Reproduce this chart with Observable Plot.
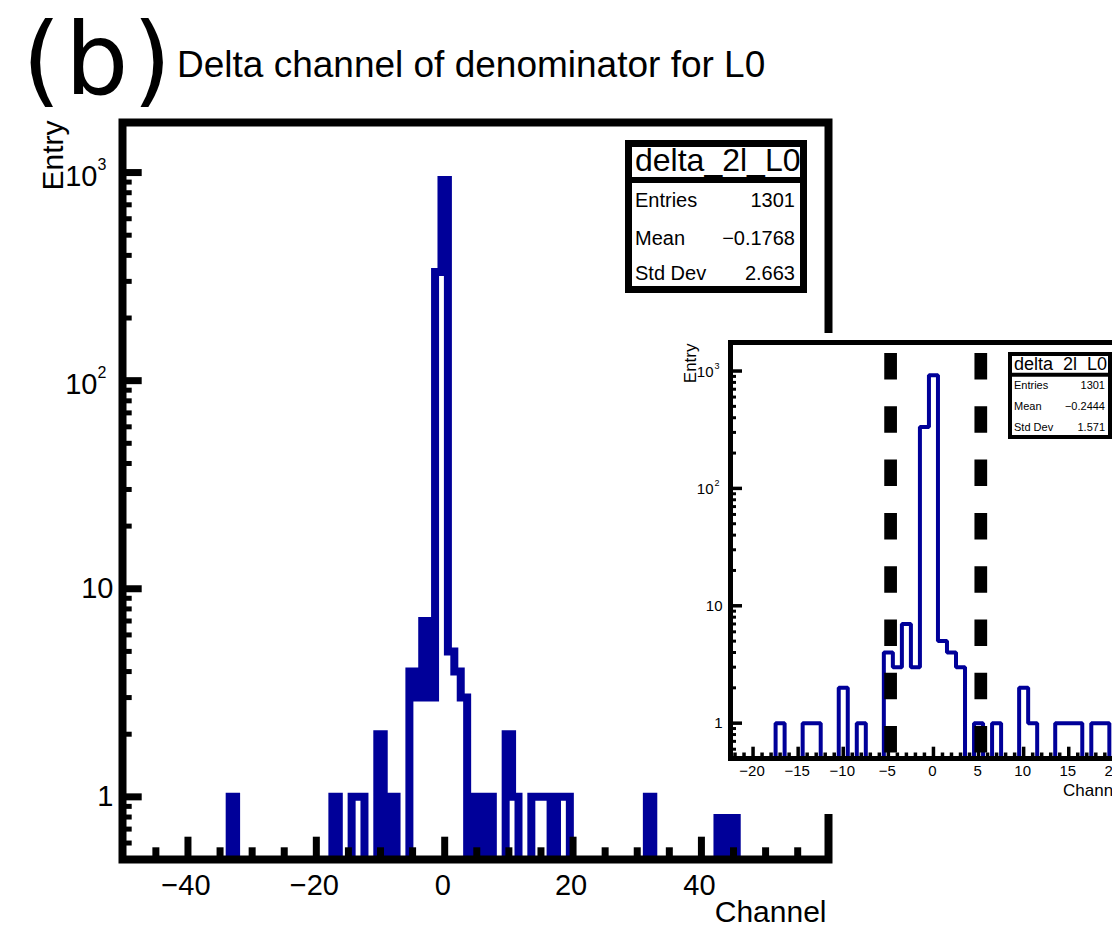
<!DOCTYPE html>
<html>
<head>
<meta charset="utf-8">
<script src="https://cdn.jsdelivr.net/npm/d3@7"></script>
<script src="https://cdn.jsdelivr.net/npm/@observablehq/plot@0.6"></script>
<style>
  html, body { margin: 0; padding: 0; background: #fff; }
  #wrap { position: relative; width: 1112px; height: 928px; overflow: hidden; background: #fff; }
  .layer { position: absolute; }
  .layer svg { max-width: none !important; display: block; }
</style>
</head>
<body>
<div id="wrap"></div>
<script>
// ---------------- data ----------------
const binCenters = [-33, -17, -14, -13, -10, -8, -5, -4, -3, -2, -1,   0, 1, 2, 3, 5, 7, 10, 11, 14, 15, 16, 18, 19, 32, 43, 45];
const binCounts  = [  1,   1,   1,   1,   2,  1,  4,  3,  7,  3, 333, 920, 5, 4, 3, 1, 1,  2,  1,  1,  1,  1,  1,  1,  1,  1,  1];

const mainXTicks = [-40, -20, 0, 20, 40];
const mainXTickLabels = ["−40", "−20", "0", "20", "40"];
const mainXMinorTicks = [-45, -35, -30, -25, -15, -10, -5, 5, 10, 15, 25, 30, 35, 45, 50, 55];

const yTickValues = [1, 10, 100, 1000];
const yTickBase = ["1", "10", "10", "10"];
const yTickExp = ["", "", "2", "3"];

const insetXTicks = [-20, -15, -10, -5, 0, 5, 10, 15, 20];
const insetXTickLabels = ["−20", "−15", "−10", "−5", "0", "5", "10", "15", "20"];

const cutLines = [-4.75, 5.25];

const statName = "delta_2l_L0";
const statLabels = ["Entries", "Mean", "Std Dev"];
const mainStatValues = ["1301", "−0.1768", "2.663"];
const insetStatValues = ["1301", "−0.2444", "1.571"];

const panelLabel = "(b)";
const titleText = "Delta channel of denominator for L0";
const xLabel = "Channel";
const yLabel = "Entry";

// ---------------- helpers ----------------
const FONT = "'Liberation Sans', Arial, Helvetica, sans-serif";
const BLUE = "#000099";

function steps(lo, hi) {
  const counts = new Map(binCenters.map((c, i) => [c, binCounts[i]]));
  const pts = [];
  for (let c = lo; c <= hi; c++) {
    const v = counts.get(c) ?? 0;
    const y = v > 0 ? v : 0.01; // empty bins fall below the axis floor (clipped)
    pts.push({x: c - 0.5, y}, {x: c + 0.5, y});
  }
  return pts;
}
const minorY = [];
for (const d of [1, 10, 100]) for (let k = 2; k <= 9; k++) minorY.push(k * d);
for (const v of [0.6, 0.7, 0.8, 0.9]) minorY.push(v);

const yLab = yTickValues.map((v, i) => ({v, base: yTickBase[i], exp: yTickExp[i]}));
const mainXLab = mainXTicks.map((v, i) => ({v, label: mainXTickLabels[i]}));
const insetXLab = insetXTicks.map((v, i) => ({v, label: insetXTickLabels[i]}));
const insetMinorX = d3.range(-22, 23).filter(v => v % 5 !== 0);

const wrap = document.getElementById("wrap");
function place(node, left, top, w, h) {
  const d = document.createElement("div");
  d.className = "layer";
  d.style.left = left + "px";
  d.style.top = top + "px";
  d.style.width = w + "px";
  d.style.height = h + "px";
  node.style.maxWidth = "none";
  d.appendChild(node);
  wrap.appendChild(d);
}

// ---------------- main plot ----------------
const M = {w: 1112, h: 928, l: 122, r: 284, t: 122, b: 69};
const fw = M.w - M.l - M.r, fh = M.h - M.t - M.b;
const mainPlot = Plot.plot({
  width: M.w, height: M.h,
  marginLeft: M.l, marginRight: M.r, marginTop: M.t, marginBottom: M.b,
  x: {domain: [-50.2, 59.8], axis: null},
  y: {type: "log", domain: [0.5, 1740], axis: null},
  style: {background: "transparent", fontFamily: FONT, color: "black", overflow: "visible"},
  marks: [
    Plot.line(steps(-51, 60), {x: "x", y: "y", stroke: BLUE, strokeWidth: 8, strokeLinejoin: "miter", strokeMiterlimit: 10, clip: true}),
    Plot.ruleY(minorY, {stroke: "black", strokeWidth: 5, insetRight: fw - 9.7}),
    Plot.ruleY(yTickValues, {stroke: "black", strokeWidth: 7, insetRight: fw - 19.7}),
    Plot.ruleX(mainXMinorTicks, {stroke: "black", strokeWidth: 7, insetTop: fh - 11.7}),
    Plot.ruleX(mainXTicks, {stroke: "black", strokeWidth: 7, insetTop: fh - 22.3}),
    Plot.frame({stroke: "black", strokeWidth: 8}),
    Plot.text(yLab, {filter: d => d.exp === "", y: "v", text: "base", frameAnchor: "left", textAnchor: "end", lineAnchor: "middle", dx: -9, fontSize: 29, fontFamily: FONT}),
    Plot.text(yLab, {filter: d => d.exp !== "", y: "v", text: "base", frameAnchor: "left", textAnchor: "end", lineAnchor: "middle", dx: -25, dy: 4, fontSize: 29, fontFamily: FONT}),
    Plot.text(yLab, {filter: d => d.exp !== "", y: "v", text: "exp", frameAnchor: "left", textAnchor: "start", lineAnchor: "middle", dx: -25, dy: -8, fontSize: 16, fontFamily: FONT}),
    Plot.text(mainXLab, {x: "v", text: "label", frameAnchor: "bottom", lineAnchor: "middle", dx: -2, dy: 26, fontSize: 29, fontFamily: FONT}),
    Plot.text([xLabel], {text: d => d, frameAnchor: "bottom-right", textAnchor: "end", lineAnchor: "middle", dx: -2, dy: 53, fontSize: 30, fontFamily: FONT}),
    Plot.text([yLabel], {text: d => d, frameAnchor: "top-left", textAnchor: "end", lineAnchor: "middle", rotate: -90, dx: -69, dy: -2, fontSize: 30, fontFamily: FONT})
  ]
});
place(mainPlot, 0, 0, M.w, M.h);

// ---------------- overlay: panel label, title, main stats box ----------------
function statsBox(svg, o) {
  const g = svg.append("g");
  g.append("rect").attr("x", o.x + o.bw / 2).attr("y", o.y + o.bw / 2)
    .attr("width", o.w - o.bw).attr("height", o.h - o.bw)
    .attr("fill", "white").attr("stroke", "black").attr("stroke-width", o.bw);
  g.append("line").attr("x1", o.x).attr("x2", o.x + o.w).attr("y1", o.sepY).attr("y2", o.sepY)
    .attr("stroke", "black").attr("stroke-width", o.sepW);
  g.append("text").attr("x", o.textX).attr("y", o.titleBase).attr("font-size", o.titleSize)
    .attr("font-family", FONT).text(statName);
  statLabels.forEach((lab, i) => {
    g.append("text").attr("x", o.textX).attr("y", o.rowBase[i]).attr("font-size", o.rowSize)
      .attr("font-family", FONT).text(lab);
    g.append("text").attr("x", o.valX).attr("y", o.rowBase[i]).attr("font-size", o.rowSize)
      .attr("text-anchor", "end").attr("font-family", FONT).text(o.values[i]);
  });
}

const ov1 = d3.create("svg").attr("width", 1112).attr("height", 928);
ov1.append("text").attr("x", 22).attr("y", 94).attr("font-size", 100)
  .attr("letter-spacing", 4)
  .attr("font-family", "'DejaVu Sans', sans-serif").text(panelLabel);
ov1.append("text").attr("x", 177).attr("y", 77).attr("font-size", 37)
  .attr("font-family", FONT).text(titleText);
statsBox(ov1, {x: 625, y: 140, w: 182, h: 153, bw: 7, sepY: 180, sepW: 6,
  textX: 635, titleBase: 171, titleSize: 32, rowBase: [207, 244.5, 280], rowSize: 20,
  valX: 795, values: mainStatValues});
place(ov1.node(), 0, 0, 1112, 928);

// ---------------- inset plot ----------------
const I = {w: 500, h: 481, l: 52, r: 42.1, t: 9, b: 56};
const ifw = I.w - I.l - I.r, ifh = I.h - I.t - I.b;
const insetPlot = Plot.plot({
  width: I.w, height: I.h,
  marginLeft: I.l, marginRight: I.r, marginTop: I.t, marginBottom: I.b,
  x: {domain: [-22.5, 22.5], axis: null},
  y: {type: "log", domain: [0.5, 1750], axis: null},
  style: {background: "white", fontFamily: FONT, color: "black", overflow: "visible"},
  marks: [
    Plot.line(steps(-23, 23), {x: "x", y: "y", stroke: BLUE, strokeWidth: 4, strokeLinejoin: "miter", clip: true}),
    Plot.ruleX(cutLines, {stroke: "black", strokeWidth: 12.7, strokeDasharray: "26.5,26.8", strokeDashoffset: 42.3}),
    Plot.ruleY(minorY, {stroke: "black", strokeWidth: 3, insetRight: ifw - 6}),
    Plot.ruleY(yTickValues, {stroke: "black", strokeWidth: 3.5, insetRight: ifw - 12}),
    Plot.ruleX(insetMinorX, {stroke: "black", strokeWidth: 3.5, insetTop: ifh - 5.5}),
    Plot.ruleX(insetXTicks, {stroke: "black", strokeWidth: 3.5, insetTop: ifh - 11.3}),
    Plot.frame({stroke: "black", strokeWidth: 5}),
    Plot.text(yLab, {filter: d => d.exp === "", y: "v", text: "base", frameAnchor: "left", textAnchor: "end", lineAnchor: "middle", dx: -8, fontSize: 15, fontFamily: FONT}),
    Plot.text(yLab, {filter: d => d.exp !== "", y: "v", text: "base", frameAnchor: "left", textAnchor: "end", lineAnchor: "middle", dx: -17, dy: 1, fontSize: 15, fontFamily: FONT}),
    Plot.text(yLab, {filter: d => d.exp !== "", y: "v", text: "exp", frameAnchor: "left", textAnchor: "start", lineAnchor: "middle", dx: -16, dy: -5, fontSize: 9, fontFamily: FONT}),
    Plot.text(insetXLab, {x: "v", text: "label", frameAnchor: "bottom", lineAnchor: "middle", dx: -1, dy: 13, fontSize: 15, fontFamily: FONT}),
    Plot.text([xLabel], {text: d => d, frameAnchor: "bottom-right", textAnchor: "end", lineAnchor: "middle", dx: -10, dy: 32, fontSize: 17, fontFamily: FONT}),
    Plot.text([yLabel], {text: d => d, frameAnchor: "top-left", textAnchor: "end", lineAnchor: "middle", rotate: -90, dx: -40, dy: 1, fontSize: 17, fontFamily: FONT})
  ]
});
place(insetPlot, 678, 333, I.w, I.h);

// ---------------- overlay: inset stats box ----------------
const ov2 = d3.create("svg").attr("width", 1112).attr("height", 928);
statsBox(ov2, {x: 1008, y: 352, w: 104, h: 87, bw: 4, sepY: 374.7, sepW: 4,
  textX: 1014, titleBase: 369.5, titleSize: 18, rowBase: [388.5, 410, 430.5], rowSize: 11,
  valX: 1105, values: insetStatValues});
place(ov2.node(), 0, 0, 1112, 928);
</script>
</body>
</html>
